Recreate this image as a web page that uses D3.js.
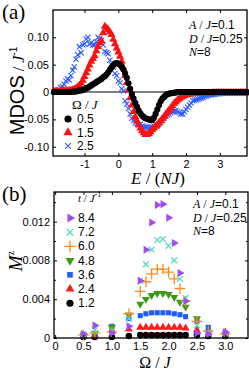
<!DOCTYPE html>
<html>
<head>
<meta charset="utf-8">
<script src="https://cdn.jsdelivr.net/npm/d3@7"></script>
<style>
  body { margin: 0; background: #fff; }
  svg { display: block; }
  .tick text { font-family: "Liberation Sans", Arial, sans-serif; font-size: 11px; fill: #000; }
  .tick line { stroke: #000; stroke-width: 1; }
</style>
</head>
<body>
<svg id="chart" width="249" height="370"></svg>
<script>
// ---- panel (a) data: MDOS against E/(NJ) ----
var energy = [-1.90, -1.85, -1.80, -1.75, -1.70, -1.65, -1.60, -1.55, -1.50, -1.45,
              -1.40, -1.35, -1.30, -1.25, -1.20, -1.15, -1.10, -1.05, -1.00, -0.95,
              -0.90, -0.85, -0.80, -0.75, -0.70, -0.65, -0.60, -0.55, -0.50, -0.45,
              -0.40, -0.35, -0.30, -0.25, -0.20, -0.15, -0.10, -0.05, 0.00, 0.05,
              0.10, 0.15, 0.20, 0.25, 0.30, 0.35, 0.40, 0.45, 0.50, 0.55,
              0.60, 0.65, 0.70, 0.75, 0.80, 0.85, 0.90, 0.95, 1.00, 1.05,
              1.10, 1.15, 1.20, 1.25, 1.30, 1.35, 1.40, 1.45, 1.50, 1.55,
              1.60, 1.65, 1.70, 1.75, 1.80, 1.85, 1.90, 1.95, 2.00, 2.05,
              2.10, 2.15, 2.20, 2.25, 2.30, 2.35, 2.40, 2.45, 2.50, 2.55,
              2.60, 2.65, 2.70, 2.75, 2.80, 2.85, 2.90, 2.95, 3.00, 3.05,
              3.10, 3.15, 3.20, 3.25, 3.30, 3.35, 3.40, 3.45, 3.50, 3.55,
              3.60, 3.65, 3.70, 3.75, 3.80];
var mdos05 = [0.000, 0.000, 0.000, 0.000, 0.000, 0.000, 0.000, 0.000, 0.000, 0.000,
              0.000, 0.001, 0.001, 0.001, 0.002, 0.003, 0.003, 0.004, 0.005, 0.007,
              0.008, 0.010, 0.012, 0.014, 0.016, 0.018, 0.020, 0.022, 0.024, 0.027,
              0.029, 0.032, 0.036, 0.041, 0.045, 0.049, 0.052, 0.053, 0.052, 0.050,
              0.046, 0.041, 0.034, 0.026, 0.016, 0.006, -0.004, -0.012, -0.020, -0.027,
              -0.034, -0.039, -0.043, -0.046, -0.048, -0.049, -0.050, -0.051, -0.051, -0.047,
              -0.040, -0.032, -0.024, -0.017, -0.012, -0.009, -0.006, -0.004, -0.003, -0.002,
              -0.002, -0.001, -0.001, 0.000, 0.000, 0.000, 0.000, 0.000, 0.000, 0.000,
              0.000, 0.000, 0.000, 0.000, 0.000, 0.000, 0.000, 0.000, 0.000, 0.000,
              0.000, 0.000, 0.000, 0.000, 0.000, 0.000, 0.000, 0.000, 0.000, 0.000,
              0.000, 0.000, 0.000, 0.000, 0.000, 0.000, 0.000, 0.000, 0.000, 0.000,
              0.000, 0.000, 0.000, 0.000, 0.000];
var mdos15 = [0.001, 0.001, 0.001, 0.001, 0.001, 0.002, 0.002, 0.002, 0.002, 0.003,
              0.003, 0.004, 0.005, 0.007, 0.009, 0.012, 0.016, 0.021, 0.028, 0.035,
              0.042, 0.049, 0.056, 0.061, 0.066, 0.075, 0.083, 0.090, 0.094, 0.108,
              0.120, 0.117, 0.114, 0.110, 0.105, 0.096, 0.088, 0.080, 0.073, 0.065,
              0.056, 0.044, 0.030, 0.017, 0.004, -0.011, -0.024, -0.036, -0.045, -0.053,
              -0.060, -0.066, -0.071, -0.075, -0.078, -0.078, -0.076, -0.073, -0.069, -0.066,
              -0.063, -0.060, -0.056, -0.053, -0.049, -0.045, -0.041, -0.037, -0.033, -0.029,
              -0.025, -0.021, -0.018, -0.015, -0.012, -0.010, -0.008, -0.007, -0.006, -0.005,
              -0.004, -0.004, -0.003, -0.003, -0.003, -0.002, -0.002, -0.002, -0.002, -0.002,
              -0.002, -0.002, -0.002, -0.002, -0.001, -0.001, -0.001, -0.001, -0.001, -0.001,
              -0.001, -0.001, -0.001, -0.001, -0.001, -0.001, -0.001, -0.001, -0.001, -0.001,
              -0.001, -0.001, -0.001, -0.001, -0.001];
var mdos25 = [0.000, 0.001, 0.002, 0.004, 0.008, 0.010, 0.014, 0.020, 0.024, 0.022,
              0.030, 0.040, 0.046, 0.060, 0.068, 0.083, 0.072, 0.086, 0.088, 0.097,
              0.100, 0.088, 0.090, 0.086, 0.086, 0.092, 0.100, 0.098, 0.094, 0.086,
              0.074, 0.072, 0.070, 0.058, 0.050, 0.046, 0.034, 0.030, 0.020, 0.017,
              0.006, 0.002, -0.016, -0.022, -0.030, -0.040, -0.048, -0.052, -0.056, -0.058,
              -0.060, -0.059, -0.062, -0.063, -0.064, -0.065, -0.066, -0.065, -0.064, -0.062,
              -0.060, -0.061, -0.058, -0.056, -0.052, -0.047, -0.044, -0.042, -0.040, -0.038,
              -0.036, -0.035, -0.034, -0.036, -0.038, -0.040, -0.040, -0.036, -0.032, -0.028,
              -0.024, -0.020, -0.016, -0.015, -0.014, -0.013, -0.012, -0.011, -0.010, -0.008,
              -0.007, -0.006, -0.005, -0.005, -0.004, -0.004, -0.003, -0.003, -0.003, -0.002,
              -0.002, -0.002, -0.002, -0.002, -0.002, -0.002, -0.002, -0.002, -0.002, -0.002,
              -0.002, -0.002, -0.002, -0.002, -0.002];
var omegaNames = ["0.5", "1.5", "2.5"];
var aTicksX = [-1, 0, 1, 2, 3];
var aTickTextX = ["-1", "0", "1", "2", "3"];
var aTicksY = [-0.10, -0.05, 0, 0.05, 0.10];
var aTickTextY = ["-0.10", "-0.05", "0", "0.05", "0.10"];

// ---- panel (b) data: M^z against Omega/J ----
var omega = [0.5, 0.7, 1.0, 1.3, 1.5, 1.6, 1.7, 1.8, 1.9, 2.0, 2.1, 2.2, 2.3, 2.5, 2.7, 3.0];
var mz84 = [0.0004, 0.0013, 0.0005, 0.0012, 0.0059, 0.0091, 0.0119, 0.0137, 0.0138, 0.0124, 0.0098, 0.0067, 0.0038, 0.0005, 0.0004, 0.0006];
var mz72 = [0.0004, 0.0008, 0.0007, 0.0020, 0.0059, 0.0076, 0.0091, 0.0101, 0.0102, 0.0095, 0.0080, 0.0061, 0.0041, 0.0013, 0.0005, 0.0005];
var mz60 = [0.0003, 0.0005, 0.0006, 0.0025, 0.0048, 0.0058, 0.0066, 0.0071, 0.0071, 0.0068, 0.0061, 0.0051, 0.0038, 0.0017, 0.0007, 0.0004];
var mz48 = [0.0003, 0.0005, 0.0011, 0.0024, 0.0035, 0.0040, 0.0044, 0.0046, 0.0046, 0.0045, 0.0042, 0.0037, 0.0032, 0.0020, 0.0006, 0.0004];
var mz36 = [0.0002, 0.0004, 0.0012, 0.0020, 0.0023, 0.0025, 0.0026, 0.0026, 0.0026, 0.0026, 0.0025, 0.0024, 0.0022, 0.0017, 0.0011, 0.0004];
var mz24 = [0.0002, 0.0003, 0.0008, 0.0009, 0.0011, 0.0011, 0.0011, 0.0011, 0.0011, 0.0011, 0.0011, 0.0011, 0.0010, 0.0008, 0.0008, 0.0006];
var mz12 = [0.0001, 0.0001, 0.0001, 0.0002, 0.0003, 0.0003, 0.0003, 0.0003, 0.0003, 0.0003, 0.0003, 0.0003, 0.0003, 0.0003, 0.0002, 0.0002];
var timeNames = ["8.4", "7.2", "6.0", "4.8", "3.6", "2.4", "1.2"];
var bTicksX = [0, 0.5, 1.0, 1.5, 2.0, 2.5, 3.0];
var bTickTextX = ["0", "0.5", "1.0", "1.5", "2.0", "2.5", "3.0"];
var bTicksY = [0, 0.004, 0.008, 0.012];
var bTickTextY = ["0", "0.004", "0.008", "0.012"];
var bMinorY = [0.002, 0.006, 0.010, 0.014];

var svg = d3.select("#chart");
var sans = "'Liberation Sans', Arial, sans-serif";
var serif = "'Liberation Serif', 'Times New Roman', serif";

// draw a box with inward ticks on all sides
function drawFrame(g, x, y, xt, xtText, yt, ytText, yMinor) {
  var x0 = x.range()[0], x1 = x.range()[1], y0 = y.range()[0], y1 = y.range()[1];

  g.append("g").attr("transform", "translate(0," + y0 + ")")
    .call(d3.axisBottom(x).tickValues(xt).tickFormat(function(d, i) { return xtText[i]; })
      .tickSizeInner(-3).tickSizeOuter(0).tickPadding(4))
    .call(function(a) { a.select(".domain").remove(); });
  g.append("g").attr("transform", "translate(0," + y1 + ")")
    .call(d3.axisTop(x).tickValues(xt).tickFormat("").tickSizeInner(-3).tickSizeOuter(0))
    .call(function(a) { a.select(".domain").remove(); });
  g.append("g").attr("transform", "translate(" + x0 + ",0)")
    .call(d3.axisLeft(y).tickValues(yt).tickFormat(function(d, i) { return ytText[i]; })
      .tickSizeInner(-3).tickSizeOuter(0).tickPadding(4))
    .call(function(a) { a.select(".domain").remove(); });
  g.append("g").attr("transform", "translate(" + x1 + ",0)")
    .call(d3.axisRight(y).tickValues(yt).tickFormat("").tickSizeInner(-3).tickSizeOuter(0))
    .call(function(a) { a.select(".domain").remove(); });

  if (yMinor) {
    g.append("g").attr("transform", "translate(" + x0 + ",0)")
      .call(d3.axisLeft(y).tickValues(yMinor).tickFormat("").tickSizeInner(-2).tickSizeOuter(0))
      .call(function(a) { a.select(".domain").remove(); });
    g.append("g").attr("transform", "translate(" + x1 + ",0)")
      .call(d3.axisRight(y).tickValues(yMinor).tickFormat("").tickSizeInner(-2).tickSizeOuter(0))
      .call(function(a) { a.select(".domain").remove(); });
  }

  g.append("rect")
    .attr("x", x0).attr("y", y1)
    .attr("width", x1 - x0).attr("height", y0 - y1)
    .attr("fill", "none").attr("stroke", "#000").attr("stroke-width", 1.3);
}

// marker helper, returns path string
function marker(type, size) {
  return d3.symbol().type(type).size(size)();
}

// ================= panel (a) =================
var xa = d3.scaleLinear().domain([-1.93, 3.8]).range([53, 247]);
var ya = d3.scaleLinear().domain([-0.117, 0.15]).range([156, 10]);
var ga = svg.append("g");

// zero line
ga.append("line")
  .attr("x1", xa.range()[0]).attr("x2", xa.range()[1])
  .attr("y1", ya(0)).attr("y2", ya(0))
  .attr("stroke", "#000").attr("stroke-width", 1.2);

var aSeries = [
  {vals: mdos25, type: d3.symbolTimes, size: 20, color: "#2f5cff", stroke: true},
  {vals: mdos15, type: d3.symbolTriangle, size: 28, color: "#ff1010", stroke: false},
  {vals: mdos05, type: d3.symbolCircle, size: 30, color: "#000", stroke: false}
];

aSeries.forEach(function(s) {
  ga.append("g").selectAll("path")
    .data(s.vals)
    .enter()
    .append("path")
    .attr("d", marker(s.type, s.size))
    .attr("transform", function(d, i) { return "translate(" + xa(energy[i]) + "," + ya(d) + ")"; })
    .attr("fill", s.stroke ? "none" : s.color)
    .attr("stroke", s.stroke ? s.color : "none")
    .attr("stroke-width", 1.1);
});

drawFrame(ga, xa, ya, aTicksX, aTickTextX, aTicksY, aTickTextY, null);

// legend (a)
var legA = [
  {type: d3.symbolCircle, size: 40, color: "#000", stroke: false},
  {type: d3.symbolTriangle, size: 36, color: "#ff1010", stroke: false},
  {type: d3.symbolTimes, size: 22, color: "#2f5cff", stroke: true}
];
var legAHead = ga.append("text").attr("x", 72).attr("y", 109)
  .attr("font-family", serif).attr("font-size", 13);
legAHead.append("tspan").text("Ω / ");
legAHead.append("tspan").attr("font-style", "italic").text("J");

legA.forEach(function(l, i) {
  var yy = 119 + i * 13.5;
  ga.append("path")
    .attr("d", marker(l.type, l.size))
    .attr("transform", "translate(68," + yy + ")")
    .attr("fill", l.stroke ? "none" : l.color)
    .attr("stroke", l.stroke ? l.color : "none")
    .attr("stroke-width", 1.1);
  ga.append("text").attr("x", 77).attr("y", yy + 4)
    .attr("font-family", sans).attr("font-size", 12).text(omegaNames[i]);
});

// parameter notes
function notes(g, x, y) {
  var rows = [["A", "/", "J", "=0.1"], ["D", "/", "J", "=0.25"], ["N", "", "", "=8"]];
  rows.forEach(function(r, i) {
    var t = g.append("text").attr("x", x).attr("y", y + i * 13.5).attr("font-size", 12);
    t.append("tspan").attr("font-family", serif).attr("font-style", "italic").text(r[0]);
    if (r[1]) {
      t.append("tspan").attr("font-family", serif).text(" " + r[1] + " ");
      t.append("tspan").attr("font-family", serif).attr("font-style", "italic").text(r[2]);
    }
    t.append("tspan").attr("font-family", sans).text(r[3]);
  });
}
notes(ga, 189, 29);

// axis titles (a)
var ylabA = svg.append("text")
  .attr("transform", "translate(24,91) rotate(-90)")
  .attr("text-anchor", "middle");
ylabA.append("tspan").attr("font-family", sans).attr("font-size", 20).text("MDOS");
ylabA.append("tspan").attr("font-family", serif).attr("font-size", 16).text(" / ");
ylabA.append("tspan").attr("font-family", serif).attr("font-style", "italic").attr("font-size", 16).text("J");
ylabA.append("tspan").attr("font-family", sans).attr("font-size", 10).attr("dy", -7).text("-1");

var xlabA = svg.append("text")
  .attr("x", 158).attr("y", 184)
  .attr("text-anchor", "middle").attr("font-family", serif).attr("font-size", 17);
xlabA.append("tspan").attr("font-style", "italic").text("E");
xlabA.append("tspan").text(" / (");
xlabA.append("tspan").attr("font-style", "italic").text("NJ");
xlabA.append("tspan").text(")");

svg.append("text").attr("x", 2).attr("y", 19)
  .attr("font-family", serif).attr("font-size", 21).text("(a)");

// ================= panel (b) =================
var xb = d3.scaleLinear().domain([-0.02, 3.4]).range([54, 248]);
var yb = d3.scaleLinear().domain([0, 0.01505]).range([338, 192]);
var gb = svg.append("g");

var bSeries = [
  {vals: mz12, type: d3.symbolCircle, size: 34, color: "#000", stroke: false, rot: 0},
  {vals: mz24, type: d3.symbolTriangle, size: 28, color: "#ff1a1a", stroke: false, rot: 0},
  {vals: mz36, type: d3.symbolSquare, size: 26, color: "#1f5cff", stroke: false, rot: 0},
  {vals: mz48, type: d3.symbolTriangle, size: 28, color: "#3a9a12", stroke: false, rot: 180},
  {vals: mz60, type: d3.symbolPlus, size: 40, color: "#ff8a1c", stroke: true, rot: 0},
  {vals: mz72, type: d3.symbolTimes, size: 24, color: "#55dccb", stroke: true, rot: 0},
  {vals: mz84, type: d3.symbolTriangle, size: 28, color: "#a04cf2", stroke: false, rot: 90}
];

bSeries.forEach(function(s) {
  gb.append("g").selectAll("path")
    .data(s.vals)
    .enter()
    .append("path")
    .attr("d", marker(s.type, s.size))
    .attr("transform", function(d, i) {
      return "translate(" + xb(omega[i]) + "," + yb(d) + ") rotate(" + s.rot + ")";
    })
    .attr("fill", s.stroke ? "none" : s.color)
    .attr("stroke", s.stroke ? s.color : "none")
    .attr("stroke-width", 1.3);
});

drawFrame(gb, xb, yb, bTicksX, bTickTextX, bTicksY, bTickTextY, bMinorY);

// legend (b), top row is 8.4
var legHead = gb.append("text").attr("x", 78).attr("y", 202)
  .attr("font-family", serif).attr("font-size", 11);
legHead.append("tspan").attr("font-style", "italic").text("t");
legHead.append("tspan").text(" / ");
legHead.append("tspan").attr("font-style", "italic").text("J");
legHead.append("tspan").attr("font-size", 8).attr("dy", -5).text("-1");

var legB = bSeries.slice().reverse();
legB.forEach(function(s, i) {
  var yy = 218 + i * 14.2;
  gb.append("path")
    .attr("d", marker(s.type, s.size + 6))
    .attr("transform", "translate(70," + yy + ") rotate(" + s.rot + ")")
    .attr("fill", s.stroke ? "none" : s.color)
    .attr("stroke", s.stroke ? s.color : "none")
    .attr("stroke-width", 1.3);
  gb.append("text").attr("x", 78).attr("y", yy + 4)
    .attr("font-family", sans).attr("font-size", 12).text(timeNames[i]);
});

notes(gb, 193, 208);

var ylabB = svg.append("text")
  .attr("transform", "translate(22,261) rotate(-90)")
  .attr("text-anchor", "middle").attr("font-family", serif);
ylabB.append("tspan").attr("font-style", "italic").attr("font-size", 19).text("M");
ylabB.append("tspan").attr("font-size", 10).attr("dy", -8).text("z");

var xlabB = svg.append("text")
  .attr("x", 155).attr("y", 368)
  .attr("text-anchor", "middle").attr("font-family", serif).attr("font-size", 16);
xlabB.append("tspan").text("Ω / ");
xlabB.append("tspan").attr("font-style", "italic").text("J");

svg.append("text").attr("x", 2).attr("y", 201)
  .attr("font-family", serif).attr("font-size", 21).text("(b)");
</script>
</body>
</html>
